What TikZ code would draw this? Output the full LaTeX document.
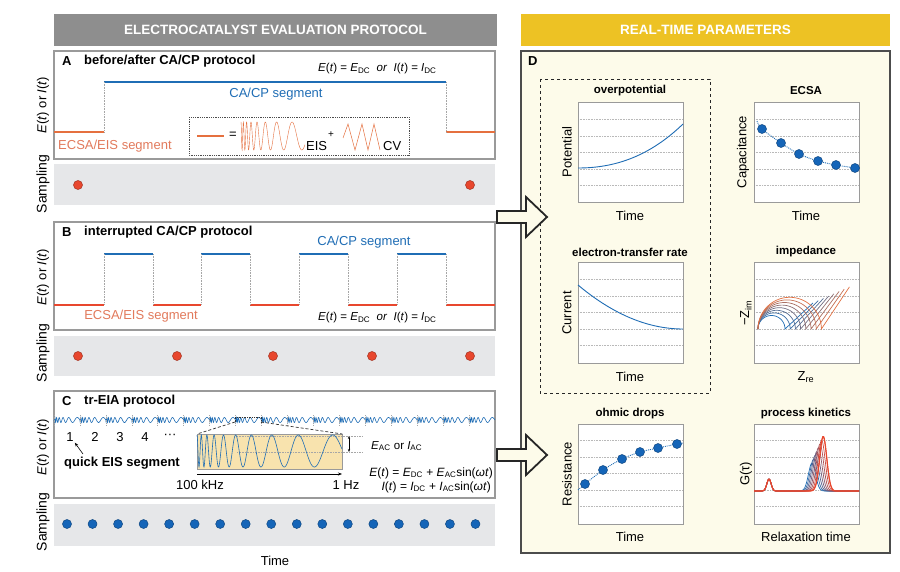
\documentclass[tikz,border=0pt]{standalone}
\usepackage{fontspec}
\setmainfont{Liberation Sans}
\usetikzlibrary{positioning,arrows.meta}

\definecolor{hdrgray}{HTML}{8E8E8E}
\definecolor{hdryellow}{HTML}{EDC224}
\definecolor{dcream}{HTML}{FDFBEA}
\definecolor{sampgray}{HTML}{E6E7E9}
\definecolor{cablue}{HTML}{1F6DB5}
\definecolor{dotblue}{HTML}{1565B8}
\definecolor{ecorange}{HTML}{E5703F}
\definecolor{ecred}{HTML}{E8472E}
\definecolor{ectext}{HTML}{E27A5C}
\definecolor{boxyellow}{HTML}{F8E3AE}
\definecolor{framegray}{HTML}{9A9A9A}

\newcommand{\Eoft}{\textit{E}(\textit{t})}
\newcommand{\Ioft}{\textit{I}(\textit{t})}

\begin{document}
\begin{tikzpicture}[x=1pt, y=-1pt,
    hdr/.style = {font=\bfseries\fontsize{13.5}{15}\selectfont, text=white},
    ptitle/.style = {font=\bfseries\fontsize{13}{15}\selectfont, anchor=west, inner sep=0pt},
    lbl/.style = {font=\fontsize{13}{15}\selectfont, inner sep=1pt},
    eqn/.style = {font=\fontsize{11.5}{13}\selectfont, inner sep=0pt},
    ylab/.style = {rotate=90, font=\fontsize{13}{15}\selectfont, inner sep=0pt},
    sampl/.style = {rotate=90, font=\fontsize{14}{16}\selectfont, inner sep=0pt},
    dtitle/.style = {font=\bfseries\fontsize{11.5}{13}\selectfont, inner sep=0pt},
    panel/.style = {draw=framegray, line width=1.2pt, fill=white},
    strip/.style = {fill=sampgray},
    reddot/.style = {circle, fill=ecred, draw=ecred!70!black, line width=0.5pt, minimum size=9pt, inner sep=0pt},
    bluedot/.style = {circle, fill=dotblue, draw=dotblue!70!black, line width=0.5pt, minimum size=9pt, inner sep=0pt},
    seg/.style = {line width=2.5pt},
    guide/.style = {gray!70, densely dotted, line width=0.6pt},
    gridln/.style = {gray!55, densely dotted, line width=0.6pt},
    plotframe/.style = {draw=framegray, line width=1pt},
    bigarrow/.style = {draw=black!85, line width=1.8pt, fill=dcream, line join=miter},
    arr/.style = {-{Stealth[length=4pt]}, line width=0.6pt}
]
    \useasboundingbox (0,0) rectangle (900,572);

    \fill[hdrgray] (54,14) rectangle (497,46);
    \node[hdr] (lefthdr) at (275.5,30) {ELECTROCATALYST EVALUATION PROTOCOL};
    \fill[hdryellow] (521,14) rectangle (890,46);
    \node[hdr] (righthdr) at (705.5,30) {REAL-TIME PARAMETERS};

    % panel A
    \draw[panel] (54,51) rectangle (495,159);
    \node[ptitle] (labA) at (62,61) {A};
    \node[ptitle] (titA) at (84,61) {before/after CA/CP protocol};
    \node[eqn, anchor=west] (eqA) at (318,69) {\Eoft{} = \textit{E}\textsubscript{DC} \ \textit{or} \ \Ioft{} = \textit{I}\textsubscript{DC}};
    \draw[seg, ecorange] (54,132) -- (104,132);
    \draw[seg, cablue] (104,82) -- (446,82);
    \draw[seg, ecorange] (446,132) -- (495,132);
    \draw[guide] (104,82) -- (104,132);
    \draw[guide] (446,82) -- (446,132);
    \node[lbl, text=cablue] (caA) at (276,94) {CA/CP segment};
    \node[lbl, text=ectext, anchor=west] (ecA) at (57,146) {ECSA/EIS segment};
    \draw[black!70, densely dotted, line width=0.8pt] (189,117) rectangle (409,155);
    \draw[ecorange, line width=2pt] (197,136) -- (224,136);
    \node[lbl] (eqsign) at (233,135) {=};
    \draw[ecorange, line width=0.4pt] plot[domain=0:1, samples=400] ({241+64*\x}, {136-14*cos(1148*ln(1+10*\x))});
    \node[lbl, anchor=west] (eislab) at (305,146) {EIS};
    \node[font=\fontsize{10}{12}\selectfont, inner sep=0pt] (plus) at (331,135) {+};
    \draw[ecorange, line width=0.5pt] (343,138) -- (348,124) -- (355,150) -- (362,124) -- (368,150) -- (374,124) -- (380,150);
    \node[lbl, anchor=west] (cvlab) at (382,146) {CV};
    \fill[strip] (54,164) rectangle (495,205);
    \node[reddot] (sA1) at (78,185) {};
    \node[reddot] (sA2) at (470,185) {};
    \node[ylab] (yA) at (43,105) {\Eoft{} or \Ioft};
    \node[sampl] (sampA) at (43,184) {Sampling};

    % panel B
    \draw[panel] (54,222) rectangle (495,330);
    \node[ptitle] (labB) at (62,232) {B};
    \node[ptitle] (titB) at (84,232) {interrupted CA/CP protocol};
    \node[lbl, text=cablue] (caB) at (364,242) {CA/CP segment};
    \foreach \a/\b in {104/153, 201/250, 299/348, 397/446}
        \draw[seg, cablue] (\a,254) -- (\b,254);
    \foreach \a/\b in {54/104, 153/201, 250/299, 348/397, 446/495}
        \draw[seg, ecred] (\a,305) -- (\b,305);
    \foreach \a in {104,153,201,250,299,348,397,446}
        \draw[guide] (\a,254) -- (\a,305);
    \node[lbl, text=ectext] (ecB) at (141,316) {ECSA/EIS segment};
    \node[eqn, anchor=west] (eqB) at (318,318) {\Eoft{} = \textit{E}\textsubscript{DC} \ \textit{or} \ \Ioft{} = \textit{I}\textsubscript{DC}};
    \fill[strip] (54,336) rectangle (495,376);
    \foreach \p [count=\i] in {78,177,273,372,470}
        \node[reddot] (sB\i) at (\p,356) {};
    \node[ylab] (yB) at (43,277) {\Eoft{} or \Ioft};
    \node[sampl] (sampB) at (43,353) {Sampling};

    % panel C
    \draw[panel] (54,391) rectangle (495,498);
    \node[ptitle] (labC) at (62,401) {C};
    \node[ptitle] (titC) at (84,401) {tr-EIA protocol};
    \foreach \k in {0,...,16} {
        \pgfmathsetmacro\sx{54+25.94*\k}
        \draw[cablue, line width=0.6pt] plot[domain=0:1, samples=140] ({\sx+25.94*\x}, {420+2.5*sin(900*ln(1+10*\x))});
        \draw[guide] (\sx,415) -- (\sx,425);
    }
    \foreach \n/\p in {1/70, 2/95, 3/120, 4/145}
        \node[lbl] (num\n) at (\p,437) {\n};
    \node[lbl] (numdots) at (170,436) {\textperiodcentered\textperiodcentered\textperiodcentered};
    \node[ptitle, anchor=center] (quick) at (122,463) {quick EIS segment};
    \coordinate (qtail) at (83,454);
    \draw[arr] (qtail) -- (num1.south east);
    \coordinate (zl) at (235,422);
    \coordinate (zr) at (261,422);
    \draw[black!80, densely dotted, line width=0.7pt] (zl) -- (235,417) -- (261,417) -- (zr);
    \node[draw=framegray, fill=boxyellow, minimum width=145pt, minimum height=35pt, inner sep=0pt, anchor=north west] (ybox) at (197,434) {};
    \draw[black!80, densely dashed, line width=0.7pt] (zl) -- (ybox.north west);
    \draw[black!80, densely dashed, line width=0.7pt] (zr) -- (ybox.north east);
    \draw[guide] (237,436) -- (362,436);
    \draw[guide] (237,452) -- (362,452);
    \draw[cablue, line width=0.6pt] plot[domain=0:1, samples=500] ({197+145*\x}, {451-16*cos(1386*ln(1+10*\x))});
    \coordinate (amptop) at (349,436);
    \coordinate (ampbot) at (349,452);
    \draw[{Stealth[length=3pt]}-{Stealth[length=3pt]}, line width=0.6pt] (amptop) -- (ampbot);
    \node[eqn, anchor=west] (eac) at (371,446) {\textit{E}\textsubscript{AC} or \textit{I}\textsubscript{AC}};
    \coordinate (fs) at (197,474);
    \coordinate (fe) at (342,474);
    \draw[arr] (fs) -- (fe);
    \node[lbl] (f100) at (200,485) {100 kHz};
    \node[lbl] (f1) at (346,485) {1 Hz};
    \node[eqn, anchor=east, font=\fontsize{12}{14}\selectfont] (eqC1) at (493,473) {\Eoft{} = \textit{E}\textsubscript{DC} + \textit{E}\textsubscript{AC}sin(\textit{ωt})};
    \node[eqn, anchor=east, font=\fontsize{12}{14}\selectfont] (eqC2) at (491,487) {\Ioft{} = \textit{I}\textsubscript{DC} + \textit{I}\textsubscript{AC}sin(\textit{ωt})};
    \fill[strip] (54,504) rectangle (495,546);
    \foreach \i in {0,...,16}
        \node[bluedot] (sC\i) at ({67+25.53*\i},524) {};
    \node[ylab] (yC) at (43,447) {\Eoft{} or \Ioft};
    \node[sampl] (sampC) at (43,522) {Sampling};
    \node[lbl] (timeC) at (275,561) {Time};

    % panel D
    \draw[draw=black!70, line width=1.2pt, fill=dcream] (521,51) rectangle (890,553);
    \node[ptitle] (labD) at (528,61) {D};
    \draw[black!85, dashed, line width=0.9pt] (540,79) rectangle (710,393);
    \foreach \fx/\fy in {578/103, 754/103, 578/263, 754/263, 578/424, 754/424} {
        \fill[white] (\fx,\fy) rectangle (\fx+105,\fy+100);
        \foreach \g in {16.5,33,49.5,66,82.5}
            \draw[gridln] (\fx,\fy+\g) -- (\fx+105,\fy+\g);
        \draw[plotframe] (\fx,\fy) rectangle (\fx+105,\fy+100);
    }
    \node[dtitle] (tOver) at (630,91) {overpotential};
    \node[dtitle] (tEcsa) at (806,91) {ECSA};
    \node[dtitle] (tRate) at (630,252) {electron-transfer rate};
    \node[dtitle] (tImp) at (806,252) {impedance};
    \node[dtitle] (tOhm) at (630,414) {ohmic drops};
    \node[dtitle] (tKin) at (806,414) {process kinetics};
    \node[ylab] (yPot) at (567,152) {Potential};
    \node[ylab] (yCap) at (743,152) {Capacitance};
    \node[ylab] (yCur) at (567,313) {Current};
    \node[ylab] (yZim) at (746,313) {−Z\textsubscript{im}};
    \node[ylab] (yRes) at (567,474) {Resistance};
    \node[ylab] (yG) at (746,474) {G(τ)};
    \node[lbl] (xPot) at (630,216) {Time};
    \node[lbl] (xCap) at (806,216) {Time};
    \node[lbl] (xCur) at (630,377) {Time};
    \node[lbl] (xZre) at (806,377) {Z\textsubscript{re}};
    \node[lbl] (xRes) at (630,537) {Time};
    \node[lbl] (xG) at (806,537) {Relaxation time};

    \draw[cablue, line width=0.9pt] plot[domain=0:1, samples=40] ({578+105*\x}, {168-44*(0.7*\x*\x+0.3*\x*\x*\x)});
    \draw[cablue, line width=0.9pt] plot[domain=0:1, samples=40] ({578+105*\x}, {285+44*(1-(1-\x)*(1-\x))});

    \draw[cablue, densely dotted, line width=0.9pt] plot[smooth] coordinates {(757,121) (762,129) (781,143) (799,154) (818,161) (836,165) (855,168) (859,169)};
    \foreach \p/\q [count=\i] in {762/129, 781/143, 799/154, 818/161, 836/165, 855/168}
        \node[bluedot] (cap\i) at (\p,\q) {};

    \draw[cablue, densely dotted, line width=0.9pt] plot[smooth] coordinates {(578,490) (585,484) (603,470) (622,459) (640,452) (658,448) (677,444) (683,443)};
    \foreach \p/\q [count=\i] in {585/484, 603/470, 622/459, 640/452, 658/448, 677/444}
        \node[bluedot] (res\i) at (\p,\q) {};

    \foreach \i in {0,...,7} {
        \pgfmathsetmacro\r{13.5+2.6*\i}
        \pgfmathtruncatemacro\mix{100-14*\i}
        \draw[cablue!\mix!ecorange, line width=0.7pt] plot[domain=180:360, samples=40] ({758+\r+\r*cos(\x)}, {329+\r*sin(\x)}) -- ++(28,{-26-2.3*\i});
    }

    \foreach \i in {0,...,7} {
        \pgfmathsetmacro\c{812+1.6*\i}
        \pgfmathsetmacro\h{28+3.8*\i}
        \pgfmathsetmacro\lo{\c-16}
        \pgfmathsetmacro\hi{\c+16}
        \pgfmathtruncatemacro\mix{100-14*\i}
        \draw[cablue!\mix!ecred, line width=0.7pt] (754,491) -- plot[domain=760:778, samples=30] (\x, {491-12*exp(-((\x-769)/3)^2)}) -- plot[domain=\lo:\hi, samples=50] (\x, {491-\h*exp(-((\x-\c)/5)^2)}) -- (859,491);
    }
    \draw[ecred, line width=1.2pt] (754,491) -- plot[domain=760:778, samples=30] (\x, {491-12*exp(-((\x-769)/3)^2)}) -- plot[domain=807.2:839.2, samples=50] (\x, {491-54.6*exp(-((\x-823.2)/5)^2)}) -- (859,491);

    % arrows to D
    \draw[bigarrow] (497,211) -- (526,211) -- (526,197) -- (547,217) -- (526,237) -- (526,223) -- (497,223) -- cycle;
    \draw[bigarrow] (497,449) -- (526,449) -- (526,435) -- (547,455) -- (526,475) -- (526,461) -- (497,461) -- cycle;
\end{tikzpicture}
\end{document}
